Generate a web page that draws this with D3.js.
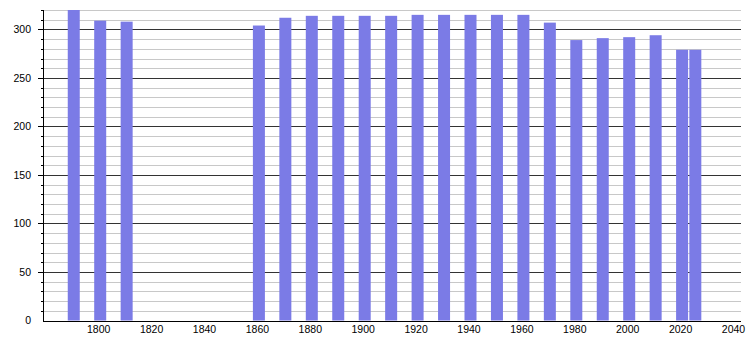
<!DOCTYPE html>
<html><head><meta charset="utf-8">
<script src="https://cdn.jsdelivr.net/npm/d3@7/dist/d3.min.js"></script>
<style>body{margin:0;background:#fff}svg{display:block}text{font-family:"Liberation Sans",Arial,sans-serif;font-size:10.5px;fill:#000}</style>
</head><body><svg id="c" width="750" height="340"></svg>
<script>
const years = [1790,1800,1810,1860,1870,1880,1890,1900,1910,1920,1930,1940,1950,1960,1970,1980,1990,2000,2010,2020,2025];
const population = [320,309,308,304,312,314,314,314,314,315,315,315,315,315,307,289,291,292,294,279,279];
const xTicks = [1800,1820,1840,1860,1880,1900,1920,1940,1960,1980,2000,2020,2040];
const yTicks = [0,50,100,150,200,250,300];

const svg = d3.select("#c");
const x = d3.scaleLinear().domain([1800,2040]).range([98.7,733.5]);
const y = d3.scaleLinear().domain([0,320]).range([320.5,10]);
const left = 44, right = 741;

const minor = d3.range(10,321,10).filter(v => v % 50 !== 0);
svg.append("g").selectAll("line").data(minor).join("line")
  .attr("x1",left).attr("x2",right).attr("y1",d=>Math.round(y(d))+0.5).attr("y2",d=>Math.round(y(d))+0.5)
  .attr("stroke","#c8c8c8").attr("stroke-width",1);
svg.append("g").selectAll("line").data(yTicks.filter(v=>v>0)).join("line")
  .attr("x1",left).attr("x2",right).attr("y1",d=>Math.round(y(d))+0.5).attr("y2",d=>Math.round(y(d))+0.5)
  .attr("stroke","#333").attr("stroke-width",1);

const bw = 12;
svg.append("g").selectAll("rect").data(years).join("rect")
  .attr("x",(d)=>x(d)+1.5-bw/2).attr("width",bw)
  .attr("y",(d,i)=>y(population[i])).attr("height",(d,i)=>y(0)-y(population[i]))
  .attr("fill","#7b7be6");

// y axis
const ya = svg.append("g");
ya.append("line").attr("x1",left-0.5).attr("x2",left-0.5).attr("y1",y(320)).attr("y2",y(0)+0.5).attr("stroke","#000");
ya.selectAll(".mt").data(d3.range(10,321,10)).join("line").attr("class","mt")
  .attr("x1",d=>d%50===0?left-6:left-3).attr("x2",left).attr("y1",d=>Math.round(y(d))+0.5).attr("y2",d=>Math.round(y(d))+0.5).attr("stroke","#000");
ya.selectAll("text").data(yTicks).join("text")
  .attr("x",31).attr("y",d=>y(d)).attr("dy","0.35em").attr("text-anchor","end").text(d=>d);

// x axis
const xa = svg.append("g");
xa.append("line").attr("x1",left-1).attr("x2",right).attr("y1",Math.round(y(0))+0.5).attr("y2",Math.round(y(0))+0.5).attr("stroke","#000");
xa.selectAll("text").data(xTicks).join("text")
  .attr("x",d=>x(d)).attr("y",333).attr("text-anchor","middle").text(d=>d);
</script></body></html>
